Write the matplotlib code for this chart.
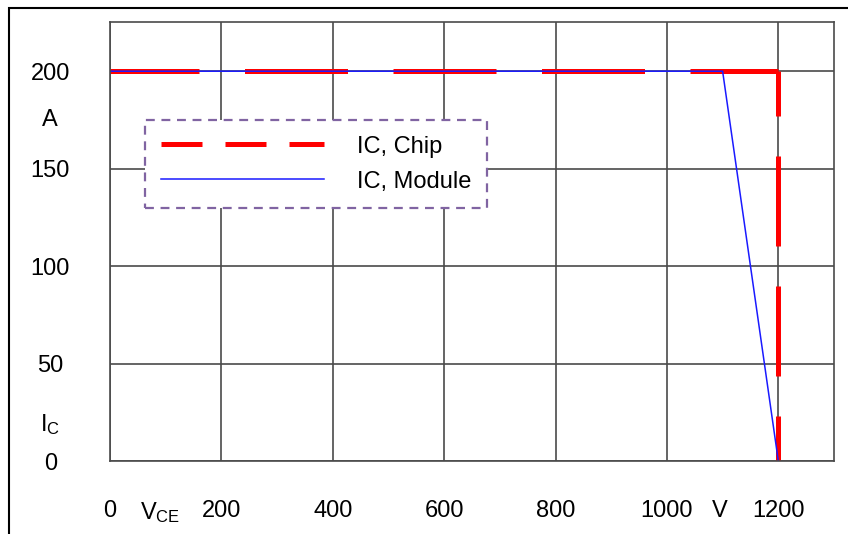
import matplotlib.pyplot as plt
from matplotlib.lines import Line2D
from matplotlib.patches import Rectangle

plt.rcParams['font.family'] = ['Liberation Sans', 'DejaVu Sans']
plt.rcParams['mathtext.fontset'] = 'custom'
plt.rcParams['mathtext.rm'] = 'Liberation Sans'
plt.rcParams['mathtext.it'] = 'Liberation Sans'

# data
chip_v = [0, 1200, 1200]
chip_i = [200, 200, 0]
module_v = [0, 1100, 1200]
module_i = [200, 200, 0]

x_ticks = [0, 200, 400, 600, 800, 1000, 1200]
y_ticks = [0, 50, 100, 150, 200]
x_units = [90, 1095]
x_unit_labels = ['V$_{\\mathrm{CE}}$', 'V']
y_units = [176, 20]
y_unit_labels = ['A', 'I$_{\\mathrm{C}}$']

red = '#ff0000'
blue = '#1a1aff'
grid_col = '#4a4a4a'

fig = plt.figure(figsize=(8.48, 5.34), dpi=100)
ax = fig.add_axes([0.1297, 0.1367, 0.8538, 0.8212])

# chip limit: horizontal part and vertical part have their own dash phase
ax.plot(chip_v[:2], chip_i[:2], color=red, lw=3.6,
        linestyle=(2.8, (20.6, 9.1)), dash_capstyle='butt')
ax.plot(chip_v[1:], chip_i[1:], color=red, lw=3.6,
        linestyle=(9, (18, 8)), dash_capstyle='butt')
ax.plot(module_v, module_i, color=blue, lw=1.1)

ax.set_xlim(0, 1300)
ax.set_ylim(0, 225)
ax.set_xticks(x_ticks)
ax.set_yticks(y_ticks)
ax.set_xticks(x_units, labels=x_unit_labels, minor=True)
ax.set_yticks(y_units, labels=y_unit_labels, minor=True)
ax.grid(True, which='major', color=grid_col, lw=1.2)
ax.set_axisbelow(True)

ax.tick_params(which='both', length=0, labelsize=17)
ax.tick_params(axis='x', which='both', pad=28)
ax.tick_params(axis='y', which='both', pad=43)
for lab in ax.get_yticklabels() + ax.get_yticklabels(minor=True):
  lab.set_horizontalalignment('center')

for s in ax.spines.values():
  s.set_color(grid_col)
  s.set_linewidth(1.2)

h_chip = Line2D([], [], color=red, lw=3.6, dashes=(8.2, 4.6),
                dash_capstyle='butt')
h_mod = Line2D([], [], color=blue, lw=1.1)
leg = ax.legend([h_chip, h_mod], ['IC, Chip', 'IC, Module'],
                loc='upper left', bbox_to_anchor=(0.171, 0.7753),
                bbox_transform=fig.transFigure, fontsize=17,
                borderaxespad=0, handlelength=6.9, handletextpad=1.4,
                borderpad=0.66, labelspacing=0.55, fancybox=False,
                framealpha=1)
frame = leg.get_frame()
frame.set_edgecolor('#8064a2')
frame.set_linestyle((0, (4, 3)))
frame.set_linewidth(1.6)

# outer frame, only left and top edges show
fig.add_artist(Rectangle((8.5 / 848, -0.5), 2, 1.5 - 8 / 534,
                         transform=fig.transFigure, fill=False,
                         edgecolor='black', lw=1.5))

plt.savefig('out.png', dpi=100)
